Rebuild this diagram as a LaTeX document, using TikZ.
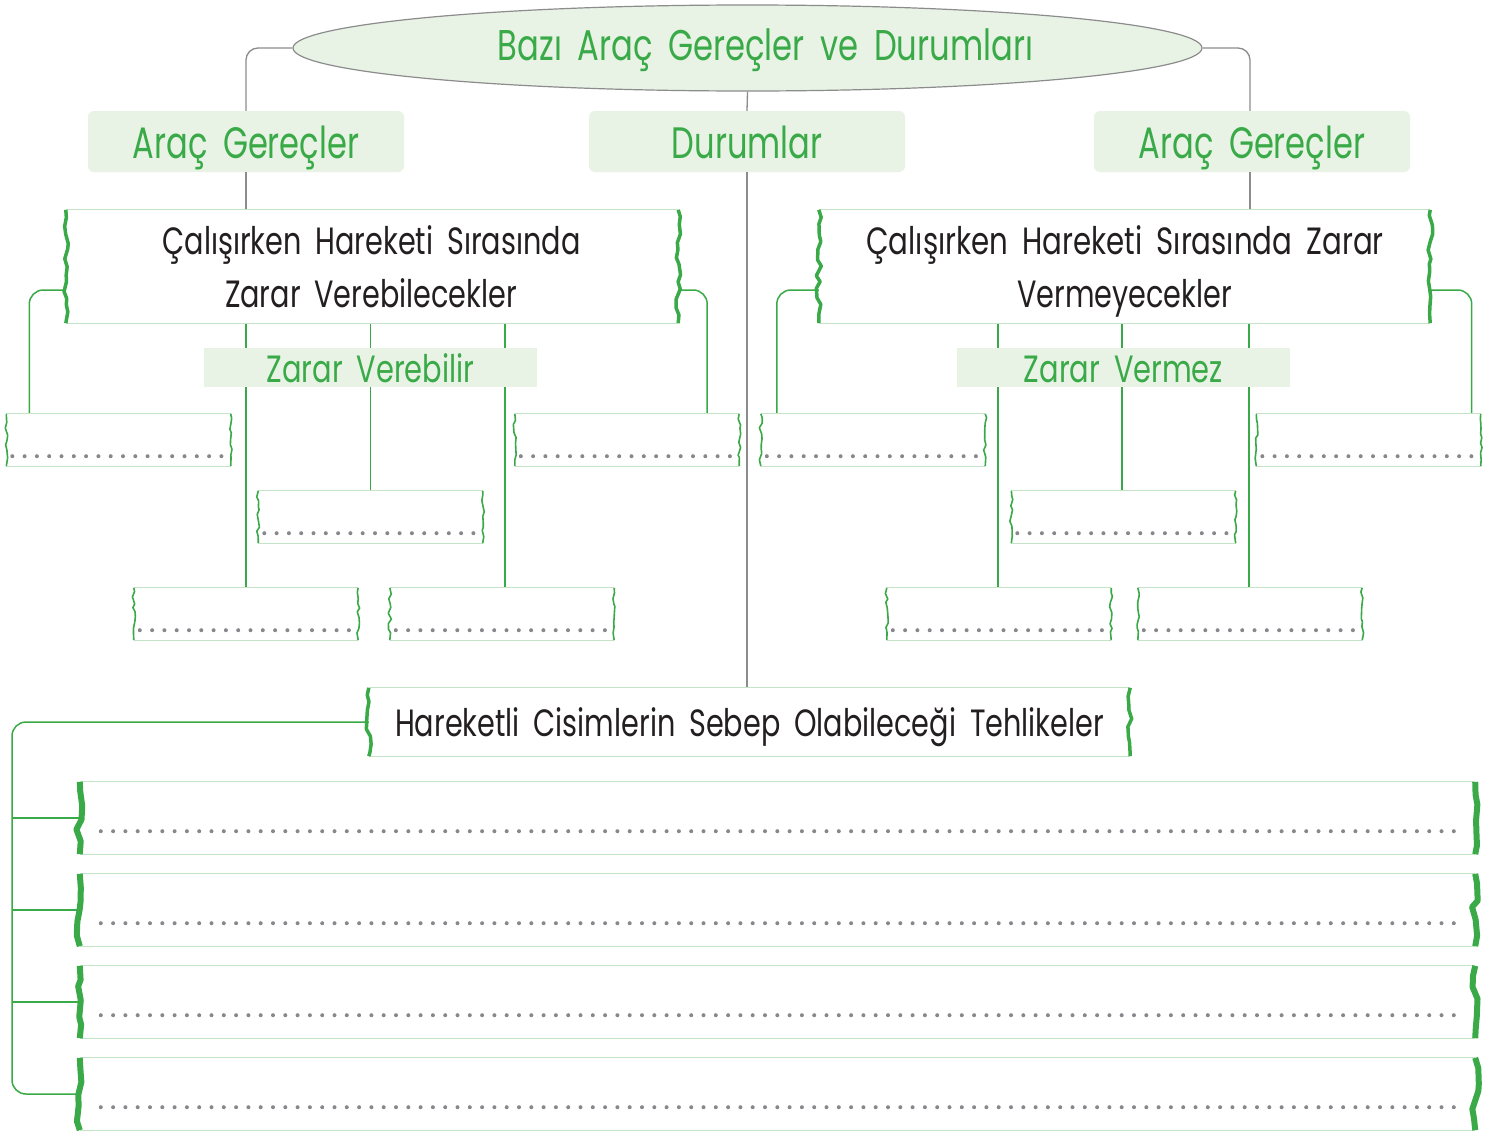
\documentclass[tikz,border=0pt]{standalone}
\usepackage{fontspec}
\setmainfont[WordSpace=1.8]{Poppins}
\usetikzlibrary{shapes.geometric,decorations.pathmorphing,calc}
\definecolor{tgreen}{RGB}{58,170,72}
\definecolor{lgreen}{RGB}{232,243,230}
\definecolor{edgec}{RGB}{196,228,200}
\definecolor{lgray}{RGB}{140,140,140}
\definecolor{dotc}{RGB}{135,135,140}
\definecolor{ink}{RGB}{35,31,32}
\newcommand\sq[2]{\scalebox{#1}[1]{#2}}
\newcommand\frameit[3]{%
  \draw[thinedge] (#1.north west) -- (#1.north east) (#1.south west) -- (#1.south east);
  \draw[draw=tgreen, line width=#2, decorate, decoration={random steps, segment length=#3, amplitude=#3/3.2}, line join=round]
    (#1.north west) -- (#1.south west) (#1.north east) -- (#1.south east);}
\newcommand\smalldots[1]{\draw[dots] ($(#1.south west)+(6,-10)$) -- ($(#1.south east)+(-3,-10)$);}
\begin{document}
\begin{tikzpicture}[x=1pt,y=-1pt,
  gline/.style={draw=lgray, line width=1.3pt, rounded corners=12pt},
  cline/.style={draw=tgreen, line width=1.5pt, rounded corners=14pt},
  labelbox/.style={fill=lgreen, rounded corners=6pt, inner sep=0pt, minimum width=316pt, minimum height=61pt, text=tgreen, text height=35pt, text depth=2pt, font=\fontsize{44}{46}\selectfont},
  sublabel/.style={fill=lgreen, inner sep=0pt, minimum width=333pt, minimum height=39pt, text=tgreen, text height=30pt, text depth=1pt, font=\fontsize{38}{40}\selectfont},
  bigbox/.style={inner sep=0pt, minimum width=612pt, minimum height=113pt},
  bigtext/.style={inner sep=0pt, anchor=base, text=ink, font=\fontsize{38}{40}\selectfont},
  smallbox/.style={inner sep=0pt, minimum width=224pt, minimum height=52pt},
  rowbox/.style={inner sep=0pt, minimum width=1395pt, minimum height=72pt},
  thinedge/.style={draw=edgec, line width=1.2pt},
  dots/.style={draw=dotc, line width=4pt, line cap=round, dash pattern=on 0pt off 12.3pt}]
\pgfmathsetseed{7}
\useasboundingbox (0,0) rectangle (1490,1130);
\fill[white] (0,0) rectangle (1490,1130);

% title
\node[ellipse, draw=lgray, line width=1.2pt, fill=lgreen, minimum width=909pt, minimum height=86pt, inner sep=0pt, text=tgreen, text height=30pt, text depth=6pt, font=\fontsize{43}{45}\selectfont] (title) at (747.5,48) {\hspace*{36pt}\sq{0.75}{Bazı Araç Gereçler ve Durumları}};

\node[labelbox] (ag1) at (246,141.5) {\sq{0.73}{Araç Gereçler}};
\node[labelbox] (dur) at (747,141.5) {\sq{0.73}{Durumlar}};
\node[labelbox] (ag2) at (1252,141.5) {\sq{0.73}{Araç Gereçler}};

\node[bigbox] (bigL) at (372,266.5) {};
\node[bigbox, minimum width=611pt] (bigR) at (1124.5,266.5) {};
\node[bigtext] (bigL1) at (371.5,254) {\sq{0.755}{Çalışırken Hareketi Sırasında}};
\node[bigtext] (bigL2) at (371,307) {\sq{0.755}{Zarar Verebilecekler}};
\node[bigtext] (bigR1) at (1125,254) {\sq{0.77}{Çalışırken Hareketi Sırasında Zarar}};
\node[bigtext] (bigR2) at (1124.5,307) {\sq{0.755}{Vermeyecekler}};

\node[smallbox] (s1) at (118.5,440) {};
\node[smallbox] (s2) at (627,440) {};
\node[smallbox] (s3) at (370.5,517) {};
\node[smallbox] (s4) at (246,614) {};
\node[smallbox] (s5) at (502,614) {};
\node[smallbox] (s6) at (873,440) {};
\node[smallbox] (s7) at (1368.5,440) {};
\node[smallbox] (s8) at (1123.5,517) {};
\node[smallbox] (s9) at (999,614) {};
\node[smallbox] (s10) at (1250,614) {};

\node[inner sep=0pt, minimum width=761pt, minimum height=68pt, text=ink, text height=30pt, text depth=2pt, font=\fontsize{38}{40}\selectfont] (hz) at (749.5,722) {\sq{0.755}{Hareketli Cisimlerin Sebep Olabileceği Tehlikeler}};

\node[rowbox] (r1) at (777.5,818) {};
\node[rowbox] (r2) at (777.5,910) {};
\node[rowbox] (r3) at (777.5,1002) {};
\node[rowbox] (r4) at (777.5,1094) {};
\coordinate (trunk) at (12,722);

% gray connectors
\draw[gline] (title.west) -| (ag1.north);
\draw[gline] (title.east) -| ([xshift=-2pt]ag2.north);
\draw[gline] (title.south) -- (dur.north);
\draw[gline] (dur.south) -- (dur.south |- hz.north);
\draw[gline] (ag1.south) -- (ag1.south |- bigL.north);
\draw[gline] ([xshift=-2pt]ag2.south) -- ([xshift=-2pt]ag2.south |- bigR.north);

% green connectors
\draw[cline] ([yshift=-23.5pt]bigL.west) -| ([xshift=23pt]s1.north west);
\draw[cline] ([yshift=-23.5pt]bigL.east) -| ([xshift=-32pt]s2.north east);
\draw[cline] ([yshift=-23.5pt]bigR.west) -| ([xshift=16pt]s6.north west);
\draw[cline] ([yshift=-23.5pt]bigR.east) -| ([xshift=-9pt]s7.north east);
\draw[cline] (s4.north |- bigL.south) -- (s4.north);
\draw[cline] (s3.north |- bigL.south) -- (s3.north);
\draw[cline] ([xshift=3pt]s5.north |- bigL.south) -- ([xshift=3pt]s5.north);
\draw[cline] ([xshift=-1pt]s9.north |- bigR.south) -- ([xshift=-1pt]s9.north);
\draw[cline] ([xshift=-1.5pt]s8.north |- bigR.south) -- ([xshift=-1.5pt]s8.north);
\draw[cline] ([xshift=-1pt]s10.north |- bigR.south) -- ([xshift=-1pt]s10.north);
\draw[cline] (hz.west) -| (r4.west -| trunk) -- (r4.west);
\draw[cline] (r1.west -| trunk) -- (r1.west);
\draw[cline] (r2.west -| trunk) -- (r2.west);
\draw[cline] (r3.west -| trunk) -- (r3.west);

% sub labels (drawn over the lines)
\node[sublabel] (zvL) at (370.5,367.5) {\sq{0.76}{Zarar Verebilir}};
\node[sublabel] (zvR) at (1123.5,367.5) {\sq{0.76}{Zarar Vermez}};

% frames
\frameit{bigL}{3.5pt}{8pt}
\frameit{bigR}{3.5pt}{8pt}
\frameit{hz}{3.5pt}{8pt}
\foreach \s in {s1,s2,s3,s4,s5,s6,s7,s8,s9,s10}{\frameit{\s}{1.6pt}{5pt}\smalldots{\s}}
\foreach \r in {r1,r2,r3,r4}{\frameit{\r}{6pt}{12pt}
  \draw[dots] ($(\r.south west)+(21,-23)$) -- ($(\r.south east)+(-20,-23)$);}
\end{tikzpicture}
\end{document}
